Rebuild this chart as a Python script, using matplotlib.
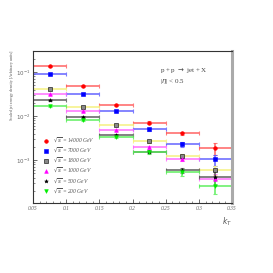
import numpy as np
import matplotlib
matplotlib.use("Agg")
import matplotlib.pyplot as plt
from matplotlib.ticker import LogLocator, MultipleLocator, FixedLocator, FuncFormatter

# ---- data ----
bin_edges = [0.05, 0.10, 0.15, 0.20, 0.25, 0.30, 0.35]
kt_centers = [0.075, 0.125, 0.175, 0.225, 0.275, 0.325]

labels = ["14000 GeV", "7000 GeV", "1800 GeV", "1000 GeV", "500 GeV", "200 GeV"]

y_14000 = [0.135, 0.0481, 0.0178, 0.00705, 0.00405, 0.00187]
y_7000 = [0.0887, 0.0321, 0.0128, 0.00499, 0.00228, 0.00104]
y_1800 = [0.0411, 0.0160, 0.00624, 0.00266, 0.00123, 0.000603]
y_1000 = [0.0316, 0.0128, 0.00489, 0.00195, 0.00107, 0.00037]
y_500 = [0.0227, 0.00964, 0.0037, 0.00155, 0.00059, 0.000417]
y_200 = [0.0166, 0.0081, 0.00339, 0.0015, 0.000542, 0.00026]

# relative vertical uncertainties
rel_err_14000 = [0.03, 0.04, 0.05, 0.07, 0.10, 0.30]
rel_err_7000 = [0.03, 0.04, 0.05, 0.07, 0.12, 0.28]
rel_err_1800 = [0.03, 0.04, 0.05, 0.08, 0.12, 0.25]
rel_err_1000 = [0.03, 0.04, 0.05, 0.08, 0.12, 0.30]
rel_err_500 = [0.03, 0.04, 0.05, 0.08, 0.14, 0.35]
rel_err_200 = [0.03, 0.04, 0.06, 0.10, 0.18, 0.35]

series = [y_14000, y_7000, y_1800, y_1000, y_500, y_200]
errs = [rel_err_14000, rel_err_7000, rel_err_1800, rel_err_1000, rel_err_500, rel_err_200]

line_colors = ["#ff5a5a", "#5a5aff", "#f5f07a", "#ff66ff", "#555555", "#55ee55"]
marker_fc = ["#ff0000", "#0000ff", "#888888", "#ff00ff", "#000000", "#00ee00"]
marker_ec = ["#ff0000", "#0000ff", "#000000", "#ff00ff", "#000000", "#00ee00"]
markers = ["o", "s", "s", "^", "*", "v"]

fig = plt.figure(figsize=(2.73, 2.73), dpi=100)
ax = fig.add_axes([0.121, 0.256, 0.729, 0.557])

xerr = [(bin_edges[i + 1] - bin_edges[i]) / 2 for i in range(len(kt_centers))]
handles = []
for ys, re, lc, fc, ec, mk in zip(series, errs, line_colors, marker_fc, marker_ec, markers):
    ys = np.array(ys)
    yerr = ys * np.array(re)
    ax.errorbar(kt_centers, ys, xerr=xerr, yerr=yerr, fmt="none",
                ecolor=lc, elinewidth=1.3, capsize=1.2, capthick=0.8, alpha=0.8, zorder=2)
    h = ax.scatter(kt_centers, ys, marker=mk, s=7, facecolor=fc, edgecolor=ec,
                   linewidths=0.4, zorder=3)
    handles.append(h)

ax.set_yscale("log")
ax.set_xlim(0.05, 0.35)
ax.set_ylim(10 ** -3.977, 10 ** -0.523)

ax.xaxis.set_major_locator(MultipleLocator(0.05))
ax.xaxis.set_minor_locator(MultipleLocator(0.01))
ax.xaxis.set_major_formatter(FuncFormatter(lambda v, p: ("%.2f" % v).rstrip("0").rstrip(".")))
ax.yaxis.set_major_locator(FixedLocator([1e-3, 1e-2, 1e-1]))
ax.yaxis.set_minor_locator(LogLocator(base=10, subs=np.arange(2, 10)))
ax.yaxis.set_major_formatter(FuncFormatter(lambda v, p: r"$10^{%d}$" % round(np.log10(v))))

ax.tick_params(axis="both", which="major", direction="in", length=3, width=0.5,
               labelsize=4, colors="#333333", labelcolor="#666666", pad=2)
ax.tick_params(axis="both", which="minor", direction="in", length=1.5, width=0.4, colors="#333333")
for lab in ax.get_xticklabels():
    lab.set_fontfamily("Liberation Serif")
    lab.set_fontstyle("italic")

for s in ["left", "top", "bottom"]:
    ax.spines[s].set_linewidth(0.8)
    ax.spines[s].set_color("#333333")
ax.spines["right"].set_linewidth(2.2)
ax.spines["right"].set_color("#aaaaaa")

ax.set_ylabel("Scaled jet energy density [Arbitrary units]", fontsize=3.0,
              family="Liberation Serif", color="#555555", loc="top")
ax.yaxis.set_label_coords(-0.095, 1.0)
ax.text(1.0, -0.08, r"$k_T$", transform=ax.transAxes, fontsize=5.5, ha="right", va="top",
        color="#555555", family="Liberation Serif")

ax.text(0.638, 0.875, r"p + p $\rightarrow$ jet + X", transform=ax.transAxes, fontsize=5,
        family="Liberation Serif", color="#444444", ha="left", va="center")
ax.text(0.638, 0.80, r"|$\eta$| < 0.5", transform=ax.transAxes, fontsize=5,
        family="Liberation Serif", color="#444444", ha="left", va="center")

leg_labels = [r"$\sqrt{s}$ = " + l for l in labels]
leg = ax.legend(handles, leg_labels, loc="lower left", bbox_to_anchor=(0.03, 0.03),
                frameon=False, labelspacing=0.22, handletextpad=0.9,
                handlelength=1.0, borderpad=0.2,
                prop={"family": "Liberation Serif", "style": "italic", "size": 4})
for t in leg.get_texts():
    t.set_color("#555555")

fig.savefig("out.png", dpi=100)
